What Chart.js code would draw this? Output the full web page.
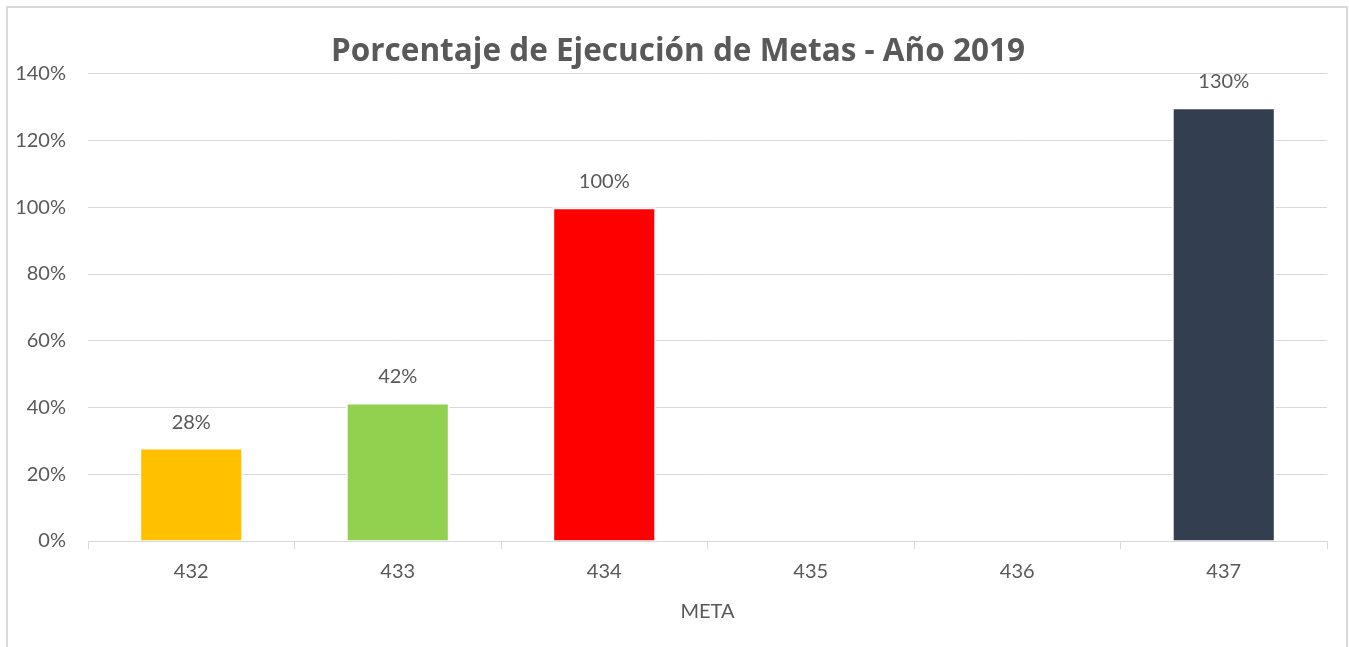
<!DOCTYPE html>
<html>
<head>
<meta charset="utf-8">
<script src="https://cdn.jsdelivr.net/npm/chart.js@4.4.1/dist/chart.umd.min.js"></script>
<style>
  html, body { margin: 0; padding: 0; background: #ffffff; overflow: hidden; }
  #wrap { position: relative; width: 1349px; height: 647px; }
  #chart { position: absolute; left: 0; top: 0; }
  #frame { position: absolute; left: 6px; top: 6px; width: 1338px; height: 700px; border: 2px solid #d9d9d9; pointer-events: none; }
</style>
</head>
<body>
<div id="wrap">
  <canvas id="chart" width="1349" height="647"></canvas>
  <div id="frame"></div>
</div>
<script>
const titleText = 'Porcentaje de Ejecución de Metas - Año 2019';
const axisTitle = 'META';
const categories = ['432', '433', '434', '435', '436', '437'];
const values = [0.28, 0.415, 1.00, null, null, 1.30];
const barColors = ['#FFC000', '#92D050', '#FF0000', '#333F50', '#333F50', '#333F50'];
const yMin = 0, yMax = 1.4, yStep = 0.2;

const textColor = '#595959';
const gridColor = '#d9d9d9';
const fontFamily = 'Lato, "Open Sans", sans-serif';
const titleFamily = '"Open Sans", Lato, sans-serif';

const dataLabels = {
  id: 'dataLabels',
  afterDatasetsDraw(chart) {
    const ctx = chart.ctx;
    const meta = chart.getDatasetMeta(0);
    ctx.save();
    ctx.font = '20px ' + fontFamily;
    ctx.fillStyle = textColor;
    ctx.textAlign = 'center';
    ctx.textBaseline = 'middle';
    meta.data.forEach((bar, i) => {
      const v = values[i];
      if (v === null || v === undefined) return;
      ctx.fillText(Math.round(v * 100) + '%', bar.x, bar.y - 25.5);
    });
    ctx.restore();
  }
};

new Chart(document.getElementById('chart'), {
  type: 'bar',
  data: {
    labels: categories,
    datasets: [{
      data: values,
      backgroundColor: barColors,
      borderColor: '#ffffff',
      borderWidth: 2,
      borderSkipped: 'start',
      barPercentage: 0.504,
      categoryPercentage: 1.0
    }]
  },
  options: {
    responsive: false,
    animation: false,
    layout: { padding: { left: 7, right: 0, top: 0, bottom: 23 } },
    plugins: {
      legend: { display: false },
      tooltip: { enabled: false },
      title: {
        display: true,
        text: titleText,
        color: textColor,
        font: { family: titleFamily, size: 31.5, weight: 'bold', lineHeight: 1.2 },
        padding: { top: 33, bottom: 3 }
      }
    },
    scales: {
      x: {
        offset: true,
        grid: {
          offset: true,
          drawOnChartArea: false,
          drawTicks: true,
          tickLength: 8,
          color: gridColor,
          lineWidth: 1
        },
        border: { display: true, color: gridColor, width: 1 },
        ticks: {
          color: textColor,
          font: { family: fontFamily, size: 20 },
          padding: 11,
          maxRotation: 0
        },
        title: {
          display: true,
          text: axisTitle,
          color: textColor,
          font: { family: fontFamily, size: 20 },
          padding: { top: 5, bottom: 0 }
        }
      },
      y: {
        min: yMin,
        max: yMax,
        afterFit(scale) { scale.width = 81; },
        grid: {
          color: gridColor,
          lineWidth: 1,
          drawTicks: false
        },
        border: { display: false },
        ticks: {
          stepSize: yStep,
          color: textColor,
          font: { family: fontFamily, size: 20 },
          padding: 22,
          callback: (v) => Math.round(v * 100) + '%'
        }
      },
      yRight: {
        position: 'right',
        display: true,
        afterFit(scale) { scale.width = 22; },
        grid: { display: false, drawTicks: false },
        border: { display: false },
        ticks: { display: false }
      }
    }
  },
  plugins: [dataLabels]
});
</script>
</body>
</html>
